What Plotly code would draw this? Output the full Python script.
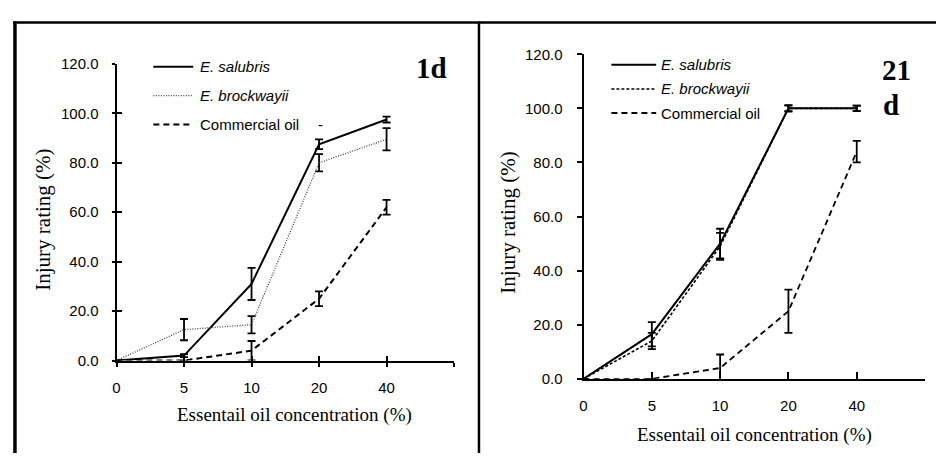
import plotly.graph_objects as go

# ---------------- data ----------------
concentrations = ["0", "5", "10", "20", "40"]
series_names = ["E. salubris", "E. brockwayii", "Commercial oil"]
y_tick_values = [0, 20, 40, 60, 80, 100, 120]

# panel "1d"
d1_salubris = [0, 2, 31, 87.5, 97.5]
d1_salubris_err = [0, 0.6, 6.5, 2, 1.2]
d1_brockwayii = [0, 12.5, 14.5, 80, 89.5]
d1_brockwayii_err = [0, 4.3, 3.5, 3.5, 4.5]
d1_commercial = [0, 0, 4, 25, 62]
d1_commercial_err = [0, 0, 3.9, 3, 3]

# panel "21 d"
d21_salubris = [0, 16.5, 50, 100, 100]
d21_salubris_err = [0, 4.5, 5.5, 1.2, 1]
d21_brockwayii = [0, 14, 49, 100, 100]
d21_brockwayii_err = [0, 3, 5, 1, 1]
d21_commercial = [0, 0, 4, 25, 84]
d21_commercial_err = [0, 0, 5, 8, 4]

W, H = 936, 461


def px(x):
    return x / W


def py(y):
    return 1 - y / H


pos = list(range(len(concentrations)))
tickvals = pos + [len(concentrations)]
ticktext = concentrations + [""]

SANS = "Liberation Sans, Arial, sans-serif"
SERIF = "Liberation Serif, Times New Roman, serif"

styles_left = [
    dict(color="black", width=2, dash="solid"),
    dict(color="#444444", width=1.3, dash="1px,1.5px"),
    dict(color="black", width=2, dash="6px,4px"),
]
styles_right = [
    dict(color="black", width=2, dash="solid"),
    dict(color="black", width=1.6, dash="3px,2px"),
    dict(color="black", width=1.8, dash="6px,4px"),
]

fig = go.Figure()


def add_series(vals, errs, name, style, xa, ya):
    fig.add_trace(go.Scatter(
        x=pos, y=vals, name=name, mode="lines", line=style,
        error_y=dict(type="data", array=errs, color="black", thickness=1.8, width=4),
        xaxis=xa, yaxis=ya, showlegend=False, hoverinfo="skip",
    ))


left_sets = [(d1_salubris, d1_salubris_err), (d1_brockwayii, d1_brockwayii_err),
             (d1_commercial, d1_commercial_err)]
right_sets = [(d21_salubris, d21_salubris_err), (d21_brockwayii, d21_brockwayii_err),
              (d21_commercial, d21_commercial_err)]

for (v, e), n, s in zip(left_sets, series_names, styles_left):
    add_series(v, e, n, s, "x", "y")
for (v, e), n, s in zip(right_sets, series_names, styles_right):
    add_series(v, e, n, s, "x2", "y2")

# invisible trace for overlay (crossing-tick) axes
fig.add_trace(go.Scatter(x=[0], y=[0], xaxis="x3", yaxis="y3", mode="markers",
                         marker=dict(opacity=0), showlegend=False, hoverinfo="skip"))

tickfont = dict(family=SANS, size=15, color="black")
common = dict(showgrid=False, zeroline=False, showline=True, linecolor="black",
              linewidth=2, tickcolor="black", tickwidth=2, tickfont=tickfont)

xrange = [0, len(concentrations)]
fig.update_layout(
    width=W, height=H, margin=dict(l=0, r=0, t=0, b=0),
    paper_bgcolor="white", plot_bgcolor="white", showlegend=False,
    xaxis=dict(domain=[px(113), px(452)], range=xrange, tickmode="array",
               tickvals=tickvals, ticktext=ticktext, ticks="outside", ticklen=4,
               ticklabelstandoff=8, anchor="y", **common),
    yaxis=dict(domain=[py(365), py(57)], range=[0, 120], tickmode="array",
               tickvals=y_tick_values, ticktext=[f"{v:.1f}" for v in y_tick_values],
               ticks="outside", ticklen=3, ticklabelstandoff=10, anchor="x", **common),
    xaxis3=dict(overlaying="x", anchor="y", range=xrange, tickmode="array",
                tickvals=tickvals, ticks="inside", ticklen=5, tickwidth=2,
                tickcolor="black", showticklabels=False, showline=False,
                showgrid=False, zeroline=False),
    yaxis3=dict(overlaying="y", anchor="x", range=[0, 120], tickmode="array",
                tickvals=y_tick_values, ticks="inside", ticklen=5, tickwidth=2,
                tickcolor="black", showticklabels=False, showline=False,
                showgrid=False, zeroline=False, side="left"),
    xaxis2=dict(domain=[px(582), px(925)], range=xrange, tickmode="array",
                tickvals=tickvals, ticktext=ticktext, ticks="inside", ticklen=7,
                ticklabelstandoff=12, anchor="y2", **common),
    yaxis2=dict(domain=[py(384), py(47)], range=[0, 120], tickmode="array",
                tickvals=y_tick_values, ticktext=[f"{v:.1f}" for v in y_tick_values],
                ticks="outside", ticklen=5, ticklabelstandoff=11, anchor="x2", **common),
)

# ---------- frame lines ----------
fig.add_shape(type="line", xref="paper", yref="paper", x0=px(9), x1=1, y0=py(14), y1=py(14),
              line=dict(color="black", width=2.5))
fig.add_shape(type="line", xref="paper", yref="paper", x0=px(11), x1=px(11), y0=py(13), y1=0,
              line=dict(color="black", width=3.5))
fig.add_shape(type="line", xref="paper", yref="paper", x0=px(477), x1=px(477), y0=py(13), y1=0,
              line=dict(color="black", width=2.5))

# ---------- legends ----------
ann = []


def text_ann(x, y, text, font, xanchor="center", angle=0):
    ann.append(dict(x=px(x), y=py(y), xref="paper", yref="paper", showarrow=False,
                    xanchor=xanchor, yanchor="middle", textangle=angle,
                    text=text, font=font))


def legend(x0, x1, xt, ys, styles):
    for name, y, st in zip(series_names, ys, styles):
        fig.add_shape(type="line", xref="paper", yref="paper", x0=px(x0), x1=px(x1),
                      y0=py(y), y1=py(y), line=st)
        italic = name.startswith("E.")
        text_ann(xt, y, f"<i>{name}</i>" if italic else name,
                 dict(family=SANS, size=15, color="black"), xanchor="left")


legend(150, 190, 195, [60, 90, 120], styles_left)
legend(610, 655, 658, [58, 83, 108], styles_right)
text_ann(318, 120, "-", dict(family=SANS, size=15, color="black"))

# ---------- panel labels ----------
label_font = dict(family=SERIF, size=29, color="black")
text_ann(429, 61, "<b>1d</b>", label_font)
text_ann(896, 63, "<b>21</b>", label_font)
text_ann(891, 100, "<b>d</b>", label_font)

# ---------- axis titles ----------
xt = "Essentail oil concentration (%)"
yt = "Injury rating (%)"
text_ann(292, 422, xt, dict(family=SERIF, size=19, color="black"))
text_ann(754, 442, xt, dict(family=SERIF, size=19, color="black"))
text_ann(39, 219, yt, dict(family=SERIF, size=21, color="black"), angle=-90)
text_ann(506, 222, yt, dict(family=SERIF, size=21, color="black"), angle=-90)

fig.update_layout(annotations=ann)
fig.write_html("out.html", config={"displayModeBar": False},
               post_script="document.body.style.margin='0px';")
